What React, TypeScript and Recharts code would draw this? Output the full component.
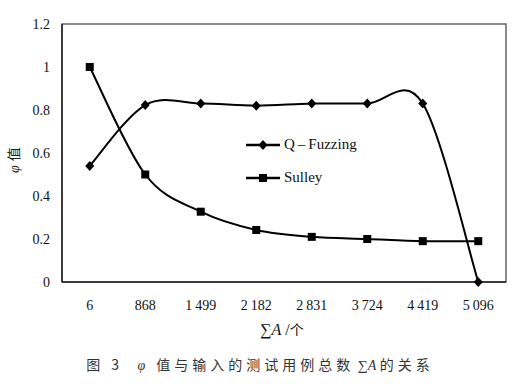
import { Label, Line, LineChart, ReferenceArea, XAxis, YAxis } from 'recharts';

const categories = ['6', '868', '1\u2009499', '2\u2009182', '2\u2009831', '3\u2009724', '4\u2009419', '5\u2009096'];
const qFuzzing = [0.54, 0.823, 0.83, 0.82, 0.83, 0.83, 0.83, 0];
const sulley = [1.0, 0.5, 0.327, 0.242, 0.21, 0.2, 0.19, 0.19];
const yTicks = [0, 0.2, 0.4, 0.6, 0.8, 1, 1.2];

const data = categories.map((name, i) => ({ name, q: qFuzzing[i], s: sulley[i] }));

const serif = '"Liberation Serif", "DejaVu Serif", serif';
const cjk = '"Noto Sans CJK SC", sans-serif';

// Excel-style smoothed line (Catmull-Rom through the points)
function smoothCurve(context: any) {
  let pts: number[][] = [];
  return {
    areaStart() {},
    areaEnd() {},
    lineStart() {
      pts = [];
    },
    point(x: number, y: number) {
      pts.push([+x, +y]);
    },
    lineEnd() {
      if (!pts.length) return;
      context.moveTo(pts[0][0], pts[0][1]);
      for (let i = 0; i < pts.length - 1; i++) {
        const p0 = pts[i - 1] || pts[i];
        const p1 = pts[i];
        const p2 = pts[i + 1];
        const p3 = pts[i + 2] || p2;
        context.bezierCurveTo(
          p1[0] + (p2[0] - p0[0]) / 6,
          p1[1] + (p2[1] - p0[1]) / 6,
          p2[0] - (p3[0] - p1[0]) / 6,
          p2[1] - (p3[1] - p1[1]) / 6,
          p2[0],
          p2[1]
        );
      }
    },
  };
}

const Diamond = ({ cx, cy }: any) =>
  cx == null ? null : <polygon points={`${cx},${cy - 5} ${cx + 4.5},${cy} ${cx},${cy + 5} ${cx - 4.5},${cy}`} fill="#000" />;

const Square = ({ cx, cy }: any) => (cx == null ? null : <rect x={cx - 4} y={cy - 4} width={8} height={8} fill="#000" />);

function LegendBox() {
  const row = (label: string, marker: 'd' | 's') => (
    <div style={{ display: 'flex', alignItems: 'center', height: 33 }}>
      <svg width={38} height={12}>
        <line x1={0} y1={6} x2={34} y2={6} stroke="#000" strokeWidth={2.5} />
        {marker === 'd' ? <polygon points="17,1 21.5,6 17,11 12.5,6" fill="#000" /> : <rect x={13} y={2} width={8} height={8} fill="#000" />}
      </svg>
      <span style={{ fontFamily: serif, fontSize: 15, color: '#111' }}>{label}</span>
    </div>
  );
  return (
    <div style={{ position: 'absolute', left: 246, top: 128 }}>
      {row('Q\u2009\u2013\u2009Fuzzing', 'd')}
      {row('Sulley', 's')}
    </div>
  );
}

export default function App() {
  return (
    <div style={{ position: 'fixed', left: 0, top: 0, width: 520, height: 390, background: '#fff', fontFamily: serif }}>
      <LineChart
        width={520}
        height={390}
        data={data}
        margin={{ top: 24, right: 14, left: 0, bottom: 78 }}
        style={{ fontFamily: serif }}
      >
        <ReferenceArea xAxisId="b" yAxisId="l" y1={0} y2={1.2} fill="none" stroke="#666" strokeWidth={1.5} ifOverflow="visible" />
        <XAxis
          dataKey="name"
          xAxisId="b"
          scale="band"
          height={30}
          tickLine={false}
          axisLine={{ stroke: '#222', strokeWidth: 1.5 }}
          tick={{ fontSize: 14, fill: '#111', fontFamily: serif }}
          tickMargin={12}
          interval={0}
        >
          <Label
            content={({ viewBox }: any) => (
              <text x={viewBox.x + viewBox.width / 2 - 2} y={335} textAnchor="middle" fontSize={16} fill="#111" fontFamily={serif}>
                ∑<tspan fontStyle="italic">A</tspan> /<tspan fontFamily={cjk} fontSize={14}>个</tspan>
              </text>
            )}
          />
        </XAxis>
        <YAxis
          yAxisId="l"
          width={62}
          domain={[0, 1.2]}
          ticks={yTicks}
          tickLine={false}
          axisLine={{ stroke: '#222', strokeWidth: 1.5 }}
          tick={{ fontSize: 14, fill: '#111', fontFamily: serif }}
          tickMargin={6}
        >
          <Label
            content={() => (
              <text transform="translate(19,160) rotate(-90)" textAnchor="middle" fontSize={14} fill="#222">
                <tspan fontFamily={serif} fontStyle="italic">φ</tspan>
                <tspan fontFamily={cjk} dx={4}>值</tspan>
              </text>
            )}
          />
        </YAxis>
        <Line
          xAxisId="b"
          yAxisId="l"
          dataKey="q"
          name="Q – Fuzzing"
          type={smoothCurve as any}
          stroke="#000"
          strokeWidth={2}
          dot={<Diamond />}
          activeDot={false}
          isAnimationActive={false}
        />
        <Line
          xAxisId="b"
          yAxisId="l"
          dataKey="s"
          name="Sulley"
          type={smoothCurve as any}
          stroke="#000"
          strokeWidth={2}
          dot={<Square />}
          activeDot={false}
          isAnimationActive={false}
        />
      </LineChart>
      <LegendBox />
      <div
        style={{
          position: 'absolute',
          left: 0,
          top: 354,
          width: 520,
          textAlign: 'center',
          fontFamily: cjk,
          fontSize: 14,
          color: '#333',
          letterSpacing: 4,
        }}
      >
        图 3 &nbsp;<span style={{ fontFamily: serif, fontStyle: 'italic' }}>φ</span> 值与输入的测试用例总数
        <span style={{ fontFamily: serif, letterSpacing: 0 }}> ∑<i>A</i> </span> 的关系
      </div>
    </div>
  );
}
